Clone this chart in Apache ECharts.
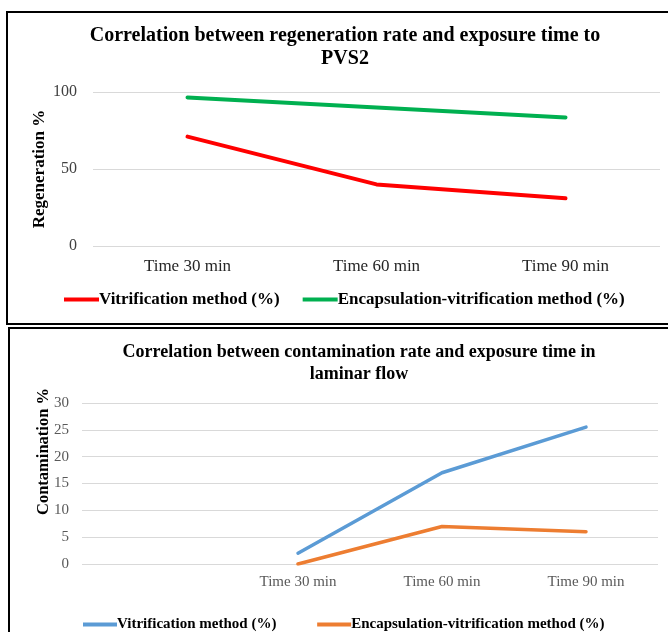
<!DOCTYPE html>
<html>
<head>
<meta charset="utf-8">
<script src="https://cdn.jsdelivr.net/npm/echarts@6/dist/echarts.min.js"></script>
<style>
html,body{margin:0;padding:0;background:#fff;}
#main{width:668px;height:632px;}
</style>
</head>
<body>
<div id="main"></div>
<script>
// Top chart data
var topTitle = 'Correlation between regeneration rate and exposure time to\nPVS2';
var topCategories = ['Time 30 min', 'Time 60 min', 'Time 90 min'];
var topYName = 'Regeneration %';
var topVitrification = [71, 40, 31];
var topEncapsulation = [96.5, 90, 83.5];

// Bottom chart data
var bottomTitle = 'Correlation between contamination rate and exposure time in\nlaminar flow';
var bottomCategories = ['', 'Time 30 min', 'Time 60 min', 'Time 90 min'];
var bottomYName = 'Contamination %';
var bottomVitrification = [null, 2, 17, 25.5];
var bottomEncapsulation = [null, 0, 7, 6];

var seriesNames = ['Vitrification method (%)', 'Encapsulation-vitrification method (%)'];

var FONT = '"Liberation Serif", "Times New Roman", serif';

var chart = echarts.init(document.getElementById('main'));
chart.setOption({
  animation: false,
  backgroundColor: '#fff',
  graphic: [
    {type: 'rect', shape: {x: 7, y: 12, width: 700, height: 312}, style: {fill: 'none', stroke: '#000', lineWidth: 2}, z: 100},
    {type: 'rect', shape: {x: 9, y: 328, width: 700, height: 400}, style: {fill: 'none', stroke: '#000', lineWidth: 2}, z: 100}
  ],
  title: [
    {text: topTitle, left: 345, top: 24, textAlign: 'center', padding: 0,
     textStyle: {fontFamily: FONT, fontSize: 20, fontWeight: 'bold', color: '#000', lineHeight: 23}},
    {text: bottomTitle, left: 359, top: 342, textAlign: 'center', padding: 0,
     textStyle: {fontFamily: FONT, fontSize: 18, fontWeight: 'bold', color: '#000', lineHeight: 21.5}}
  ],
  legend: [
    {data: [seriesNames[0], seriesNames[1]], left: 64, top: 291, padding: 0,
     icon: 'rect', itemWidth: 35, itemHeight: 4, itemGap: 23,
     textStyle: {fontFamily: FONT, fontSize: 17, fontWeight: 'bold', color: '#000', padding: [0, 0, 0, -5]},
     selectedMode: false},
    {data: [seriesNames[0] + ' ', seriesNames[1] + ' '], left: 83, top: 617, padding: 0,
     icon: 'rect', itemWidth: 34, itemHeight: 4, itemGap: 37,
     textStyle: {fontFamily: FONT, fontSize: 15, fontWeight: 'bold', color: '#000', padding: [0, 0, 0, -5]},
     selectedMode: false}
  ],
  grid: [
    {left: 93, right: 8, top: 92, height: 154},
    {left: 82, right: 10, top: 403, height: 161}
  ],
  xAxis: [
    {type: 'category', gridIndex: 0, data: topCategories, boundaryGap: true,
     axisLine: {show: false}, axisTick: {show: false},
     axisLabel: {fontFamily: FONT, fontSize: 17, color: '#262626', margin: 12}},
    {type: 'category', gridIndex: 1, data: bottomCategories, boundaryGap: true,
     axisLine: {show: false}, axisTick: {show: false},
     axisLabel: {fontFamily: FONT, fontSize: 15, color: '#595959', margin: 11}}
  ],
  yAxis: [
    {type: 'value', gridIndex: 0, min: 0, max: 100, interval: 50,
     name: topYName, nameLocation: 'middle', nameGap: 45, nameRotate: 90, nameMoveOverlap: false,
     nameTextStyle: {fontFamily: FONT, fontSize: 17, fontWeight: 'bold', color: '#000'},
     axisLine: {show: false}, axisTick: {show: false},
     axisLabel: {fontFamily: FONT, fontSize: 16, color: '#404040', margin: 16},
     splitLine: {lineStyle: {color: '#d9d9d9', width: 1.2}}},
    {type: 'value', gridIndex: 1, min: 0, max: 30, interval: 5,
     name: bottomYName, nameLocation: 'middle', nameGap: 30, nameRotate: 90, nameMoveOverlap: false,
     nameTextStyle: {fontFamily: FONT, fontSize: 16.5, fontWeight: 'bold', color: '#000', padding: [0, 0, 0, 64]},
     axisLine: {show: false}, axisTick: {show: false},
     axisLabel: {fontFamily: FONT, fontSize: 15, color: '#595959', margin: 13},
     splitLine: {lineStyle: {color: '#d9d9d9', width: 1.2}}}
  ],
  series: [
    {name: seriesNames[0], type: 'line', xAxisIndex: 0, yAxisIndex: 0, data: topVitrification,
     symbol: 'none', color: '#ff0000', lineStyle: {width: 4, cap: 'round', join: 'round'}},
    {name: seriesNames[1], type: 'line', xAxisIndex: 0, yAxisIndex: 0, data: topEncapsulation,
     symbol: 'none', color: '#00b050', lineStyle: {width: 4, cap: 'round', join: 'round'}},
    {name: seriesNames[0] + ' ', type: 'line', xAxisIndex: 1, yAxisIndex: 1, data: bottomVitrification,
     symbol: 'none', color: '#5b9bd5', lineStyle: {width: 3.5, cap: 'round', join: 'round'}},
    {name: seriesNames[1] + ' ', type: 'line', xAxisIndex: 1, yAxisIndex: 1, data: bottomEncapsulation,
     symbol: 'none', color: '#ed7d31', lineStyle: {width: 3.5, cap: 'round', join: 'round'}}
  ]
});
</script>
</body>
</html>
